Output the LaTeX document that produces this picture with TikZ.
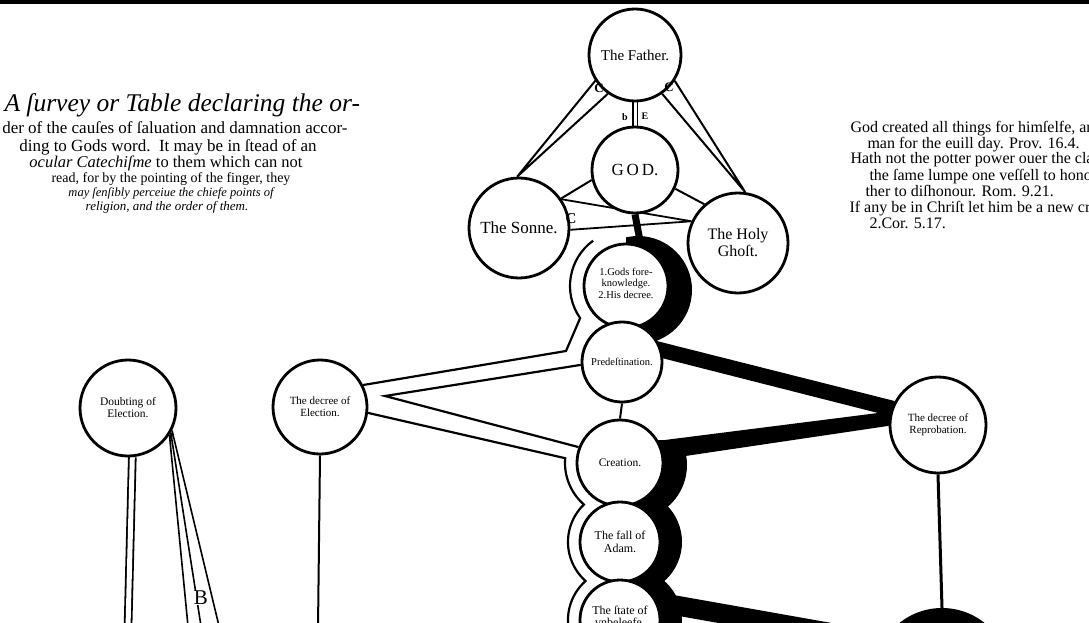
\documentclass[tikz,border=0pt]{standalone}
\usepackage{fontspec}
\setmainfont{Liberation Serif}
\usetikzlibrary{calc,backgrounds}
\tikzset{
  orb/.style={circle, draw, line width=2.8pt, fill=white, align=center, inner sep=0pt},
  band/.style={line width=2.2pt},
  verse/.style={anchor=base west, font=\fontsize{16}{16}\selectfont},
  letter/.style={font=\bfseries\fontsize{13}{13}\selectfont, inner sep=0pt},
}
\begin{document}
\begin{tikzpicture}[x=1pt, y=-1pt]
\useasboundingbox (0,0) rectangle (1089,623);
\clip (0,0) rectangle (1089,623);
\fill (0,0) rectangle (1089,4);

% the persons
\node[orb, minimum size=92pt, font=\fontsize{15}{16}\selectfont] (father) at (635,55) {The Father.};
\node[orb, minimum size=86pt, font=\fontsize{17}{18}\selectfont] (god) at (635,170) {G\,O\,D.};
\node[orb, minimum size=100pt, font=\fontsize{17}{18}\selectfont] (sonne) at (519,228) {The Sonne.};
\node[orb, minimum size=100pt, font=\fontsize{16}{17}\selectfont] (ghost) at (738,243) {The Holy\\Ghoſt.};

% the chain of causes
\node[orb, minimum size=84pt, font=\fontsize{10.5}{11}\selectfont] (fore) at (626,286) {\raisebox{5pt}{\shortstack{1.Gods fore-\\knowledge.\\2.His decree.}}};
\node[orb, minimum size=80pt, font=\fontsize{10.5}{11}\selectfont] (predest) at (622,362) {Predeſtination.};
\node[orb, minimum size=86pt, font=\fontsize{11.5}{12}\selectfont] (creation) at (620,463) {Creation.};
\node[orb, minimum size=80pt, font=\fontsize{12}{12.5}\selectfont] (fall) at (620,542) {The fall of\\Adam.};
\node[orb, minimum size=80pt, font=\fontsize{12}{12.5}\selectfont] (state) at (620,620) {\raisebox{7pt}{\shortstack{The ſtate of\\vnbeleefe.}}};

% the two decrees
\node[orb, minimum size=94pt, font=\fontsize{11}{12}\selectfont] (election) at (320,407) {The decree of\\Election.};
\node[orb, minimum size=96pt, font=\fontsize{11.5}{12}\selectfont] (doubt) at (128,408) {Doubting of\\Election.};
\node[orb, minimum size=96pt, font=\fontsize{11}{12}\selectfont] (reprob) at (938,425) {The decree of\\Reprobation.};
\node[circle, fill, minimum size=136pt] (damned) at (942,676) {};

\coordinate (efork) at (385,396);
\coordinate (rfork) at (878,413);
\coordinate (sink) at (860,638);
\coordinate (elecfoot) at (318,628);
\coordinate (doubtfoot) at (128,628);
\coordinate (dfoot1) at (188,626);
\coordinate (dfoot2) at (201,626);
\coordinate (dfoot3) at (219,626);

\begin{scope}[on background layer]
  % black side of the chain
  \foreach \cx/\cy/\r/\ox/\oy/\R/\top in {626/286/42/638/290/54/215, 620/463/43/632/465/55/440, 620/542/40/630/542/52/500, 620/620/40/630/620/52/578}{
    \begin{scope}
      \clip (\cx,\top) rectangle (\cx+100,\cy+80);
      \fill[even odd rule] (\ox,\oy) circle (\R) (\cx,\cy) circle (\r);
    \end{scope}
  }
  \draw[line width=7pt] (god.south) -- (fore.70);
  \fill (predest.30) -- (reprob.151) -- (reprob.181) -- (creation.5) -- (creation.30) -- (rfork) -- (predest.5) -- cycle;
  \fill (state.45) -- ($(sink)+(0,-10)$) -- ($(sink)+(0,10)$) -- (state.10) -- cycle;
  \draw[line width=3pt] (reprob.south) -- (damned.north);

  % white side of the chain
  \draw[band] ($(fore.center)+(234:56)$) arc[start angle=234, end angle=145, radius=56] -- (566,351) -- (election.27);
  \draw[band] (predest.184) -- (efork) -- (creation.159);
  \draw[band] (election.353) -- ($(creation.center)+(185:55)$) arc[start angle=185, end angle=131, radius=55]
    arc[start angle=226.1, end angle=131.4, radius=52] arc[start angle=228.6, end angle=160, radius=52];
  \draw[line width=2pt] (election.south) -- (elecfoot);
  \draw[line width=1.8pt, double, double distance=5pt] (doubt.275) -- (doubtfoot);
  \draw[line width=1.6pt] (doubt.327) -- (dfoot1) (doubt.330) -- (dfoot2) (doubt.333) -- (dfoot3);

  % the Trinity
  \draw[line width=2pt] (father.213) -- (sonne.92) (father.235) -- (sonne.92);
  \draw[line width=2pt] (father.327) -- (ghost.82) (father.305) -- (ghost.82);
  \draw[line width=1.6pt, double, double distance=3pt] (father) -- (god);
  \draw[line width=2pt] (god.193) -- (sonne.35);
  \draw[line width=2pt] (god.335) -- (ghost.131);
  \draw[line width=1.8pt] (sonne.34) -- (ghost.155) (sonne.358) -- (ghost.155);
  \draw[line width=2pt] (predest.south) -- (creation.north);
\end{scope}

% key letters
\node[letter] (cleft) at (599,88) {C};
\node[letter] (cright) at (669,87) {C};
\node[letter, font=\bfseries\fontsize{15}{15}\selectfont] (cson) at (571,219) {C};
\node[letter, font=\bfseries\fontsize{10}{10}\selectfont] (nb) at (625,117) {b};
\node[letter, font=\bfseries\fontsize{10}{10}\selectfont] (nE) at (645,116) {E};
\node[fill=white, inner sep=0.5pt, font=\fontsize{21}{21}\selectfont] (keyB) at (201,598) {B};

% the title
\node[anchor=base west, font=\itshape\fontsize{25.5}{26}\selectfont] (head1) at (1,112) {A ſurvey or Table declaring the or-};
\node[anchor=base east, font=\fontsize{17}{17}\selectfont] (head2) at (351,134) {der of the cauſes of ſaluation and damnation accor-};
\node[anchor=base, font=\fontsize{17}{17}\selectfont] (head3) at (168,151) {ding to Gods word.\ \ It may be in ſtead of an};
\node[anchor=base, font=\fontsize{16.5}{17}\selectfont] (head4) at (166,167) {\textit{ocular Catechiſme} to them which can not};
\node[anchor=base, font=\fontsize{14}{14}\selectfont] (head5) at (171,182) {read, for by the pointing of the finger, they};
\node[anchor=base, font=\itshape\fontsize{12.5}{13}\selectfont] (head6) at (171,196) {may ſenſibly perceiue the chiefe points of};
\node[anchor=base, font=\itshape\fontsize{13}{13}\selectfont] (head7) at (167,210) {religion, and the order of them.};

% the texts
\node[verse] (text1) at (847,132) {God created all things for himſelfe, and the wicked};
\node[verse] (text2) at (864,148) {man for the euill day. Prov. 16.4.};
\node[verse] (text3) at (847,164) {Hath not the potter power ouer the clay, to make of};
\node[verse] (text4) at (866,180) {the ſame lumpe one veſſell to honour, and ano-};
\node[verse] (text5) at (862,196) {ther to diſhonour. Rom. 9.21.};
\node[verse] (text6) at (846,212) {If any be in Chriſt let him be a new creature.};
\node[verse] (text7) at (866,228) {2.Cor. 5.17.};
\end{tikzpicture}
\end{document}
